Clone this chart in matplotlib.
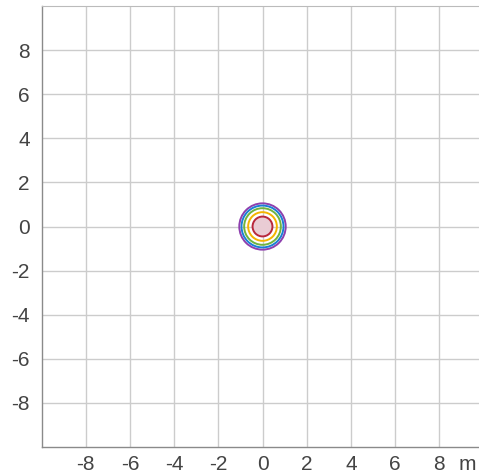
import matplotlib.pyplot as plt
from matplotlib.patches import Circle

# rings around the origin (outer to inner), in metres
ring_radii = [1.05, 0.95, 0.83, 0.65, 0.45]
ring_colors = ["#8e3fae", "#1a7fd4", "#6fb33f", "#f4b400", "#b8283c"]
ring_fill = [None, None, None, None, "#e9ccd4"]

tick_values = [-8, -6, -4, -2, 0, 2, 4, 6, 8]
axis_limit = 10
unit_label = "m"

plt.rcParams["font.family"] = ["Liberation Sans", "DejaVu Sans"]

fig = plt.figure(figsize=(4.79, 4.75), dpi=100)
W, H = 479, 475
ax = fig.add_axes([41.5 / W, 28 / H, 442 / W, 441 / H])
ax.set_xlim(-axis_limit, axis_limit)
ax.set_ylim(-axis_limit, axis_limit)

ax.set_xticks(tick_values)
ax.set_yticks(tick_values)
ax.set_xticklabels([str(v) for v in tick_values])
ax.set_yticklabels([str(v) for v in tick_values])
ax.tick_params(length=0, labelsize=15, labelcolor="#444444")
ax.tick_params(axis="x", pad=6)
ax.tick_params(axis="y", pad=8.5)
ax.grid(True, color="#cccccc", linewidth=1)
ax.set_axisbelow(True)

for side in ["left", "bottom"]:
    ax.spines[side].set_color("#8a8a8a")
    ax.spines[side].set_linewidth(1)
ax.spines["top"].set_color("#bbbbbb")
ax.spines["right"].set_visible(False)

for r, c, f in zip(ring_radii, ring_colors, ring_fill):
    ax.add_patch(Circle((0, 0), r, facecolor=f if f else "none",
                        edgecolor=c, linewidth=1.4, zorder=3))

# unit label sits in line with the x tick labels
ax.annotate(unit_label, xy=(9.25, -axis_limit), xytext=(0, -6),
            textcoords="offset points", ha="center", va="top",
            fontsize=15, color="#444444")

fig.savefig("out.png", dpi=100)
